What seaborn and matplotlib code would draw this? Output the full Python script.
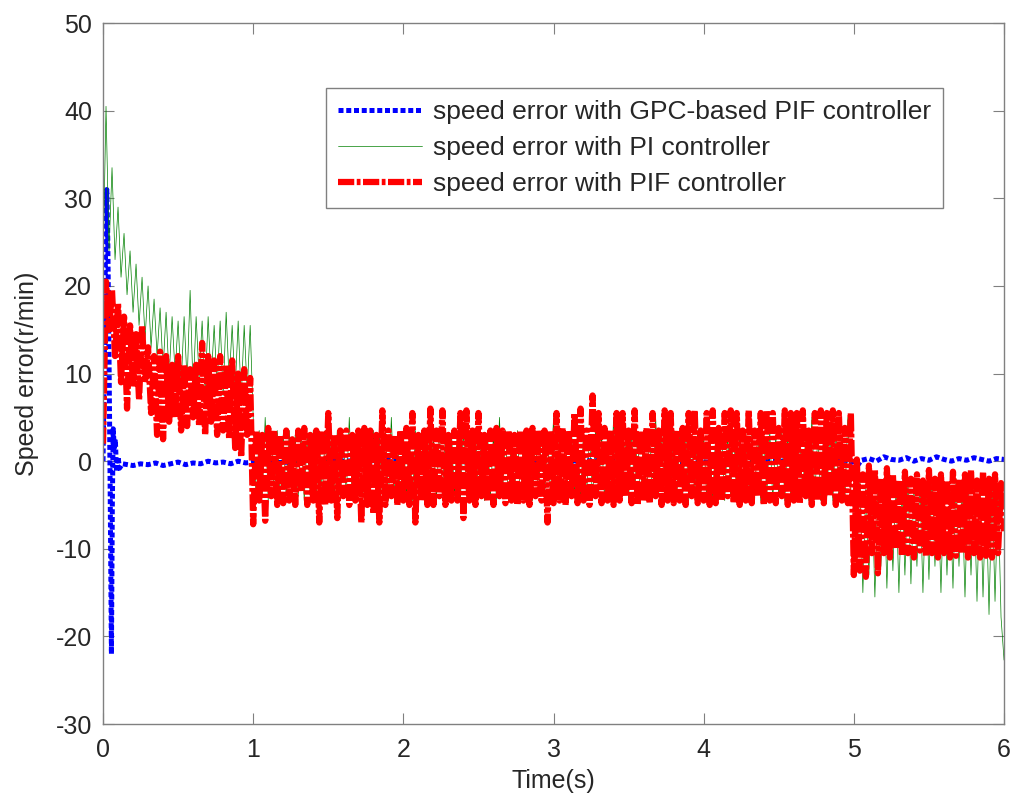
import numpy as np
import pandas as pd
import matplotlib
matplotlib.use('Agg')
import matplotlib.pyplot as plt
import seaborn as sns

# sample step of the PI / PIF traces (s)
dt = 0.02

# PIF controller speed error (r/min)
pif_0_1 = [2, 20.5, 15, 19.5, 12, 18, 9, 16.5, 6, 15.5,
           8.5, 14.5, 7, 15.5, 9, 13, 5.5, 12, 3, 12.5,
           2.5, 12, 4.5, 11, 5, 12, 3.5, 11, 4, 10.5,
           5, 11, 4, 13.5, 3, 12, 4.5, 11.5, 3, 12,
           3.5, 11, 2.5, 11.5, 1.5, 10, 0.5, 10.5, 3, 9.5]
pif_1_5 = [-7.2, 3.5, -4.5, 3.0, -6.8, 3.8, -4.0, 3.5, -5.0, 3.0,
           -4.8, 3.5, -4.5, 2.5, -5.0, 3.5, -3.5, 3.8, -5.0, 3.0,
           -4.5, 3.5, -7.0, 3.5, -5.0, 5.5, -4.5, 3.0, -6.5, 3.5,
           -4.0, 3.5, -5.0, 3.0, -4.5, 3.5, -7.0, 3.8, -5.0, 3.5,
           -6.0, 3.0, -7.0, 5.8, -5.0, 3.5, -4.0, 3.0, -5.0, 3.5,
           -4.5, 3.8, -5.0, 5.5, -7.0, 3.0, -4.5, 3.5, -5.0, 6.0,
           -5.0, 3.5, -4.0, 5.8, -5.0, 3.0, -4.5, 3.5, -4.5, 5.5,
           -6.5, 5.8, -4.5, 3.5, -5.0, 5.5, -4.0, 3.0, -4.5, 3.5,
           -5.0, 3.8, -4.0, 3.5, -4.8, 3.5, -4.5, 3.0, -5.0, 3.5,
           -4.5, 3.5, -5.0, 3.8, -4.0, 3.5, -4.5, 3.5, -7.0, 3.5,
           -4.8, 5.5, -4.5, 3.8, -5.0, 3.5, -4.0, 5.5, -4.8, 6.0,
           -4.5, 3.5, -5.0, 7.5, -4.0, 5.5, -4.8, 3.8, -4.5, 3.5,
           -5.0, 5.5, -4.5, 5.5, -4.0, 3.5, -4.8, 5.8, -5.0, 3.5,
           -4.5, 3.8, -4.8, 5.5, -4.0, 3.5, -5.0, 5.8, -4.5, 5.5,
           -4.8, 3.5, -4.5, 3.8, -5.0, 5.5, -4.0, 5.8, -4.8, 3.5,
           -4.5, 5.5, -5.0, 5.8, -4.8, 3.8, -4.5, 5.5, -4.0, 5.8,
           -4.8, 5.5, -5.0, 3.5, -4.5, 5.8, -4.8, 3.5, -4.0, 5.5,
           -5.0, 5.8, -4.5, 5.5, -4.8, 3.8, -4.0, 5.8, -5.0, 5.5,
           -4.5, 5.5, -4.8, 5.8, -4.0, 3.5, -5.0, 5.5, -4.5, 5.8,
           -4.8, 5.5, -4.0, 5.8, -5.0, 5.5, -4.5, 3.8, -4.8, 5.5]
pif_5_6 = [-13, 0.2, -12.5, -1.5, -13.2, -0.5, -10.5, -1.0, -12.8, -2.0,
           -10.5, -0.8, -11, -1.5, -10, -2.2, -10.8, -1.2, -10.5, -2.0,
           -11, -1.5, -10.2, -2.2, -10.8, -1.0, -10.5, -2.0, -11, -1.5,
           -10.5, -2.2, -11, -1.2, -10.8, -2.0, -10.5, -1.5, -11, -1.0,
           -10.5, -2.2, -11, -1.2, -10.8, -2.0, -11, -1.5, -10.5, -2.5,
           -8]

# PI controller speed error (r/min)
pi_0_1 = [22, 40.5, 24, 33.5, 23, 29, 21, 26, 19, 24,
          17, 22.5, 15.5, 21, 14, 20, 13, 18.5, 12, 17.5,
          10.5, 17, 9.5, 16.5, 10, 16, 8.5, 16.5, 9, 19.5,
          8, 16.5, 9.5, 16, 8, 16.5, 9, 15.5, 8.5, 16,
          7.5, 17, 9, 15.5, 8, 16, 7, 15.5, 8, 15.5]
pi_1_5 = [5.0, -4.5, 3.5, -4.0, 5.0, -4.5, 3.0, -4.0, 3.5, -4.5,
          3.0, -4.0, 3.5, -4.5, 3.0, -4.0, 3.5, -4.5, 3.0, -4.0,
          3.5, -4.5, 3.0, -4.0, 3.5, -4.5, 3.0, -4.0, 3.5, -4.5,
          3.0, -4.0, 5.0, -4.5, 3.0, -4.0, 3.5, -4.5, 3.0, -4.0,
          3.5, -4.5, 3.0, -4.0, 3.5, -4.5, 5.0, -4.0, 3.0, -4.5,
          3.5, -4.0, 3.0, -4.5, 3.5, -4.0, 3.0, -4.5, 3.5, -4.0,
          3.0, -4.5, 3.5, -4.0, 3.0, -4.5, 3.5, -4.0, 3.0, -4.5,
          3.5, -4.0, 3.0, -4.5, 3.5, -4.0, 3.0, -4.5, 3.5, -4.0,
          3.0, -4.5, 5.0, -4.0, 3.5, -4.5, 3.0, -4.0, 3.5, -4.5,
          3.0, -4.0, 3.5, -4.5, 3.0, -4.0, 3.5, -4.5, 3.0, -4.0,
          5.0, -4.5, 3.5, -4.0, 3.0, -4.5, 3.5, -4.0, 3.0, -4.5,
          3.5, -4.0, 3.0, -4.5, 3.5, -4.0, 3.0, -4.5, 3.5, -4.0,
          5.0, -4.5, 3.5, -4.0, 3.0, -4.5, 3.5, -4.0, 3.0, -4.5,
          3.5, -4.0, 3.0, -4.5, 5.0, -4.0, 3.5, -4.5, 3.0, -4.0,
          3.5, -4.5, 3.0, -4.0, 3.5, -4.5, 3.0, -4.0, 3.5, -4.5,
          3.0, -4.0, 3.5, -4.5, 3.0, -4.0, 3.5, -4.5, 3.0, -4.0,
          3.5, -4.5, 3.0, -4.0, 3.5, -4.5, 3.0, -4.0, 3.5, -4.5,
          3.0, -4.0, 3.5, -4.5, 3.0, -4.0, 3.5, -4.5, 3.0, -4.0,
          3.5, -4.5, 3.0, -4.0, 3.5, -4.5, 5.0, -4.0, 3.0, -4.5,
          3.5, -4.0, 3.0, -4.5, 3.5, -4.0, 3.0, -4.5, 5.0, -4.0]
pi_5_6 = [-3, -12, -2, -15, -3, -13, -2.5, -15.5, -3, -12,
          -2, -14.5, -3, -12.5, -2.5, -15, -3, -13, -2, -14,
          -3, -12, -2.5, -15, -3, -13.5, -2, -12, -3, -15,
          -2.5, -13, -3, -14.5, -2, -12, -3, -15.5, -2.5, -13,
          -3, -16, -2, -15.5, -3, -17.5, -2.5, -16, -3, -17.8,
          -22.7]

# GPC-based PIF controller speed error (irregular time points)
gpc_t = [0.0, 0.008, 0.015, 0.025, 0.032, 0.040, 0.048, 0.056, 0.062, 0.068,
         0.075, 0.082, 0.090, 0.100, 0.110, 0.13,
         0.20, 0.25, 0.30, 0.35, 0.40, 0.45, 0.50, 0.55, 0.60, 0.65,
         0.70, 0.75, 0.80, 0.85, 0.90, 0.95, 1.00,
         1.02, 1.05, 1.5, 2.0, 2.5, 3.0, 3.5, 4.0, 4.5, 4.98,
         5.00, 5.02, 5.05, 5.10, 5.15, 5.20, 5.25, 5.30, 5.35, 5.40,
         5.45, 5.50, 5.55, 5.60, 5.65, 5.70, 5.75, 5.80, 5.85, 5.90,
         5.95, 6.00]
gpc_v = [0, 10, 22, 31, 25, 12, -4, -22, -5, 3.7,
         1.5, 2.5, -1.2, 0.5, -0.8, -0.3,
         -0.5, -0.3, -0.4, -0.2, -0.5, -0.3, -0.1, -0.4, -0.2, -0.3,
         0.0, -0.2, -0.1, -0.3, 0.0, -0.2, -0.1,
         -0.7, -0.2, 0.0, 0.1, -0.1, 0.0, 0.1, -0.1, 0.0, 0.1,
         -1.0, -0.6, 0.1, 0.3, 0.0, 0.5, 0.2, 0.1, 0.4, 0.0,
         0.3, 0.1, 0.5, 0.2, 0.0, 0.3, 0.1, 0.4, 0.2, 0.0,
         0.3, 0.2]

labels = ['speed error with GPC-based PIF controller',
          'speed error with PI controller',
          'speed error with PIF controller']

pif = np.array(pif_0_1 + pif_1_5 + pif_5_6)
pi = np.array(pi_0_1 + pi_1_5 + pi_5_6)
t = np.round(np.arange(len(pif)) * dt, 3)
df = pd.DataFrame({'t': t, 'pi': pi, 'pif': pif})
gpc = pd.DataFrame({'t': gpc_t, 'v': gpc_v})

sns.set_style('ticks')
plt.rcParams['font.family'] = ['Liberation Sans', 'DejaVu Sans']
plt.rcParams['axes.unicode_minus'] = False

fig = plt.figure(figsize=(10.24, 8.07), dpi=100)
ax = fig.add_axes([0.1006, 0.1028, 0.8799, 0.8686])

sns.lineplot(data=gpc, x='t', y='v', ax=ax, color='#0000ff', lw=3.6,
             linestyle=(0, (1.0, 0.55)), estimator=None, sort=False, label=labels[0])
sns.lineplot(data=df, x='t', y='pi', ax=ax, color='#008000', lw=0.5,
             estimator=None, sort=False, label=labels[1])
sns.lineplot(data=df, x='t', y='pif', ax=ax, color='#ff0000', lw=4.5,
             linestyle=(0, (2.6, 0.4, 0.6, 0.4)), estimator=None, sort=False, label=labels[2])

ax.set_xlim(0, 6)
ax.set_ylim(-30, 50)
ax.set_xticks(range(0, 7))
ax.set_yticks(range(-30, 51, 10))
ax.tick_params(direction='in', top=True, right=True, length=8, width=0.8,
               color='#808080', labelsize=18, pad=8)
ax.tick_params(axis='x', pad=10)
for s in ax.spines.values():
    s.set_color('#808080')
    s.set_linewidth(1)
ax.set_xlabel('Time(s)', fontsize=18, labelpad=5)
ax.set_ylabel('Speed error(r/min)', fontsize=18, labelpad=12)

leg = ax.legend(loc='upper right', bbox_to_anchor=(0.932, 0.907), fontsize=19,
                frameon=True, fancybox=False, edgecolor='#808080', framealpha=1,
                handlelength=3.2, handletextpad=0.4, labelspacing=0.45,
                borderpad=0.45, borderaxespad=0)
leg.get_frame().set_linewidth(1)

fig.savefig('out.png', dpi=100)
